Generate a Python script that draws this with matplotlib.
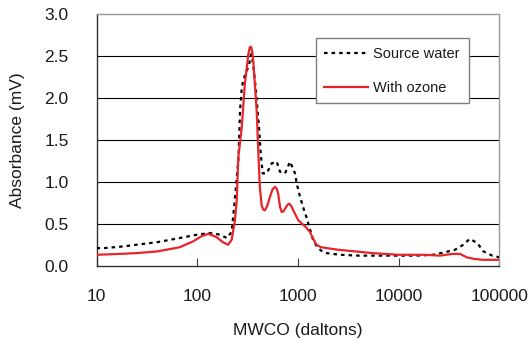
import matplotlib
matplotlib.use('Agg')
import matplotlib.pyplot as plt

plt.rcParams['font.family'] = ['Liberation Sans', 'DejaVu Sans']

# Source water (dotted black line)
src_x = [10, 12, 18.5, 25, 40, 67, 100, 134, 168, 197, 209, 220, 236, 256, 262, 266,
         277, 288, 310, 328, 342, 358, 375, 390, 411, 427, 447, 490, 549, 616, 664,
         745, 836, 936, 973, 1050, 1125, 1222, 1320, 1414, 1537, 1700, 1932, 2620,
         4000, 6000, 10000, 15000, 22000, 28600, 36300, 43900, 51000, 60500, 69600,
         85000, 100000]
src_y = [0.21, 0.21, 0.23, 0.25, 0.28, 0.33, 0.37, 0.39, 0.37, 0.33, 0.37, 0.40, 0.78,
         1.25, 1.57, 1.84, 2.12, 2.22, 2.32, 2.40, 2.52, 2.42, 2.20, 1.97, 1.65, 1.34,
         1.10, 1.10, 1.22, 1.24, 1.12, 1.10, 1.24, 1.10, 0.98, 0.82, 0.70, 0.57, 0.43,
         0.31, 0.23, 0.18, 0.15, 0.13, 0.12, 0.12, 0.12, 0.12, 0.13, 0.16, 0.19, 0.25,
         0.32, 0.27, 0.17, 0.12, 0.10]

# With ozone (red line)
oz_x = [10, 16.5, 25, 40, 67, 91, 110, 129, 156, 180, 203, 220, 237, 247, 256, 277,
        297, 322, 332, 342, 352, 361, 390, 404, 419, 437, 452, 470, 495, 528, 560, 593,
        615, 637, 665, 690, 720, 763, 795, 822, 860, 900, 1010, 1100, 1200, 1320, 1450,
        1530, 1700, 1930, 2520, 5500, 10000, 18000, 25800, 33600, 40900, 47400, 57000,
        69000, 100000]
oz_y = [0.13, 0.14, 0.15, 0.17, 0.22, 0.29, 0.35, 0.38, 0.34, 0.28, 0.25, 0.31, 0.54,
        0.78, 1.29, 1.65, 2.16, 2.52, 2.60, 2.61, 2.55, 2.43, 1.84, 1.37, 0.93, 0.72,
        0.67, 0.66, 0.71, 0.82, 0.91, 0.94, 0.92, 0.86, 0.70, 0.64, 0.65, 0.70, 0.73,
        0.74, 0.71, 0.66, 0.54, 0.50, 0.46, 0.40, 0.30, 0.25, 0.22, 0.21, 0.19, 0.15,
        0.13, 0.13, 0.12, 0.14, 0.14, 0.10, 0.08, 0.07, 0.07]

x_ticks = [10, 100, 1000, 10000, 100000]
x_ticklabels = ['10', '100', '1000', '10000', '100000']
y_ticks = [0.0, 0.5, 1.0, 1.5, 2.0, 2.5, 3.0]

txt = '#1a1a1a'

fig = plt.figure(figsize=(5.31, 3.41), dpi=100)
ax = fig.add_axes([96.5 / 531, 1 - 265.7 / 341, (499.3 - 96.5) / 531, (265.7 - 14) / 341])

for yv in y_ticks[1:-1]:
    ax.axhline(yv, color='black', lw=0.8, zorder=1)

ax.plot(src_x, src_y, color='black', lw=1.6, linestyle=(0, (1.6, 1.8)),
        label='Source water', zorder=3)
ax.plot(oz_x, oz_y, color='#e8242b', lw=1.6, label='With ozone', zorder=4,
        solid_joinstyle='round')

ax.set_xscale('log')
ax.set_xlim(10, 100000)
ax.set_ylim(0, 3)
ax.set_xticks(x_ticks)
ax.set_xticklabels(x_ticklabels)
ax.xaxis.set_minor_locator(matplotlib.ticker.NullLocator())
ax.set_yticks(y_ticks)
ax.set_yticklabels([f'{v:.1f}' for v in y_ticks])

ax.tick_params(axis='x', direction='in', length=6, width=0.8, color='#404040',
               pad=17, labelsize=12.5, labelcolor=txt)
ax.tick_params(axis='y', length=0, pad=20, labelsize=12.5, labelcolor=txt)

for side in ['top', 'right']:
    ax.spines[side].set_color('#999999')
    ax.spines[side].set_linewidth(1.0)
for side in ['left', 'bottom']:
    ax.spines[side].set_color('#303030')
    ax.spines[side].set_linewidth(1.0)

ax.set_xlabel('MWCO (daltons)', fontsize=12.5, color=txt)
ax.set_ylabel('Absorbance (mV)', fontsize=12.5, color=txt)
ax.xaxis.set_label_coords(0.5, (265.7 - 330) / 251.7)
ax.xaxis.label.set_va('center')
ax.yaxis.set_label_coords((18 - 96.5) / 402.8, 0.5)
ax.yaxis.label.set_va('center')

leg = ax.legend(loc='upper left', bbox_to_anchor=(315.7 / 531, 1 - 38.3 / 341),
                bbox_transform=fig.transFigure, borderaxespad=0, fontsize=10.5,
                frameon=True, fancybox=False, framealpha=1, edgecolor='#7f7f7f',
                handlelength=3.0, handletextpad=0.35, labelspacing=1.35,
                borderpad=0.6)
leg.get_frame().set_linewidth(1.0)
for t in leg.get_texts():
    t.set_color(txt)

fig.savefig('out.png', dpi=100)
